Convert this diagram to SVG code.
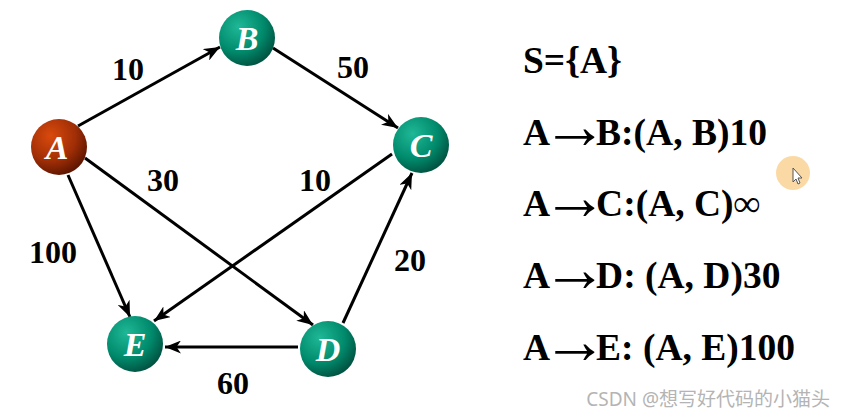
<svg xmlns="http://www.w3.org/2000/svg" width="846" height="419" viewBox="0 0 846 419">
<defs>
<radialGradient id="teal" cx="0.35" cy="0.3" r="0.75">
<stop offset="0" stop-color="#1fb896"/>
<stop offset="0.6" stop-color="#008a6c"/>
<stop offset="1" stop-color="#00503f"/>
</radialGradient>
<radialGradient id="red" cx="0.35" cy="0.3" r="0.75">
<stop offset="0" stop-color="#d94a0c"/>
<stop offset="0.6" stop-color="#a02e06"/>
<stop offset="1" stop-color="#5a1400"/>
</radialGradient>
<marker id="arr" markerUnits="userSpaceOnUse" markerWidth="17" markerHeight="13" refX="16" refY="6.5" orient="auto" viewBox="0 0 17 13">
<path d="M0,0 L16,6.5 L0,13 L4.5,6.5 z" fill="#000"/>
</marker>
<style>
.edge{stroke:#000;stroke-width:3;fill:none;marker-end:url(#arr)}
.nl{font-family:"Liberation Serif",serif;font-weight:bold;font-style:italic;font-size:34px;fill:#fff;text-anchor:middle}
.wl{font-family:"Liberation Serif",serif;font-weight:bold;font-size:32px;fill:#000;text-anchor:middle}
.rt{font-family:"Liberation Serif",serif;font-weight:bold;font-size:37.5px;fill:#000}
.ar{font-size:66px;font-weight:normal}
</style>
</defs>
<rect width="846" height="419" fill="#fff"/>
<g id="connectors">
<line class="edge" x1="78" y1="126" x2="220" y2="47"/>
<line class="edge" x1="273" y1="48" x2="398" y2="128"/>
<line class="edge" x1="85" y1="158" x2="313" y2="325"/>
<line class="edge" x1="68" y1="175" x2="130" y2="317"/>
<line class="edge" x1="392" y1="154" x2="154" y2="321"/>
<line class="edge" x1="343" y1="323" x2="412" y2="173"/>
<line class="edge" x1="298" y1="347" x2="165" y2="347"/>
<text class="wl" x="128" y="80">10</text>
<text class="wl" x="353" y="78">50</text>
<text class="wl" x="163" y="191">30</text>
<text class="wl" x="315" y="191">10</text>
<text class="wl" x="53" y="263">100</text>
<text class="wl" x="410" y="271">20</text>
<text class="wl" x="233" y="394">60</text>
</g>
<g id="A"><circle cx="59" cy="147" r="28" fill="url(#red)"/><text class="nl" x="57" y="159">A</text></g>
<g id="B"><circle cx="247" cy="38" r="28" fill="url(#teal)"/><text class="nl" x="247" y="50">B</text></g>
<g id="C"><circle cx="421" cy="145" r="28" fill="url(#teal)"/><text class="nl" x="421" y="157">C</text></g>
<g id="D"><circle cx="328" cy="349" r="28" fill="url(#teal)"/><text class="nl" x="328" y="361">D</text></g>
<g id="E"><circle cx="135" cy="344" r="28" fill="url(#teal)"/><text class="nl" x="135" y="356">E</text></g>
<g id="text">
<text class="rt" x="523" y="73">S={A}</text>
<text class="rt" x="523" y="145">A<tspan class="ar" dx="-8" dy="3">→</tspan><tspan dx="-12" dy="-3">B:(A, B)10</tspan></text>
<text class="rt" x="523" y="216">A<tspan class="ar" dx="-8" dy="3">→</tspan><tspan dx="-12" dy="-3">C:(A, C)∞</tspan></text>
<text class="rt" x="523" y="288">A<tspan class="ar" dx="-8" dy="3">→</tspan><tspan dx="-12" dy="-3">D: (A, D)30</tspan></text>
<text class="rt" x="523" y="360">A<tspan class="ar" dx="-8" dy="3">→</tspan><tspan dx="-12" dy="-3">E: (A, E)100</tspan></text>
</g>
<g id="cursor">
<circle cx="793" cy="173" r="17" fill="#fbd59a" opacity="0.9"/>
<path d="M793,168 L793,182 L796,179 L798,184 L800,183 L798,178 L802,178 z" fill="#fff" stroke="#555" stroke-width="1"/>
</g>
<text x="830" y="406" text-anchor="end" font-family="'Noto Sans','Noto Sans CJK SC',sans-serif" font-size="19" fill="#b4b4b4">CSDN @想写好代码的小猫头</text>
</svg>
